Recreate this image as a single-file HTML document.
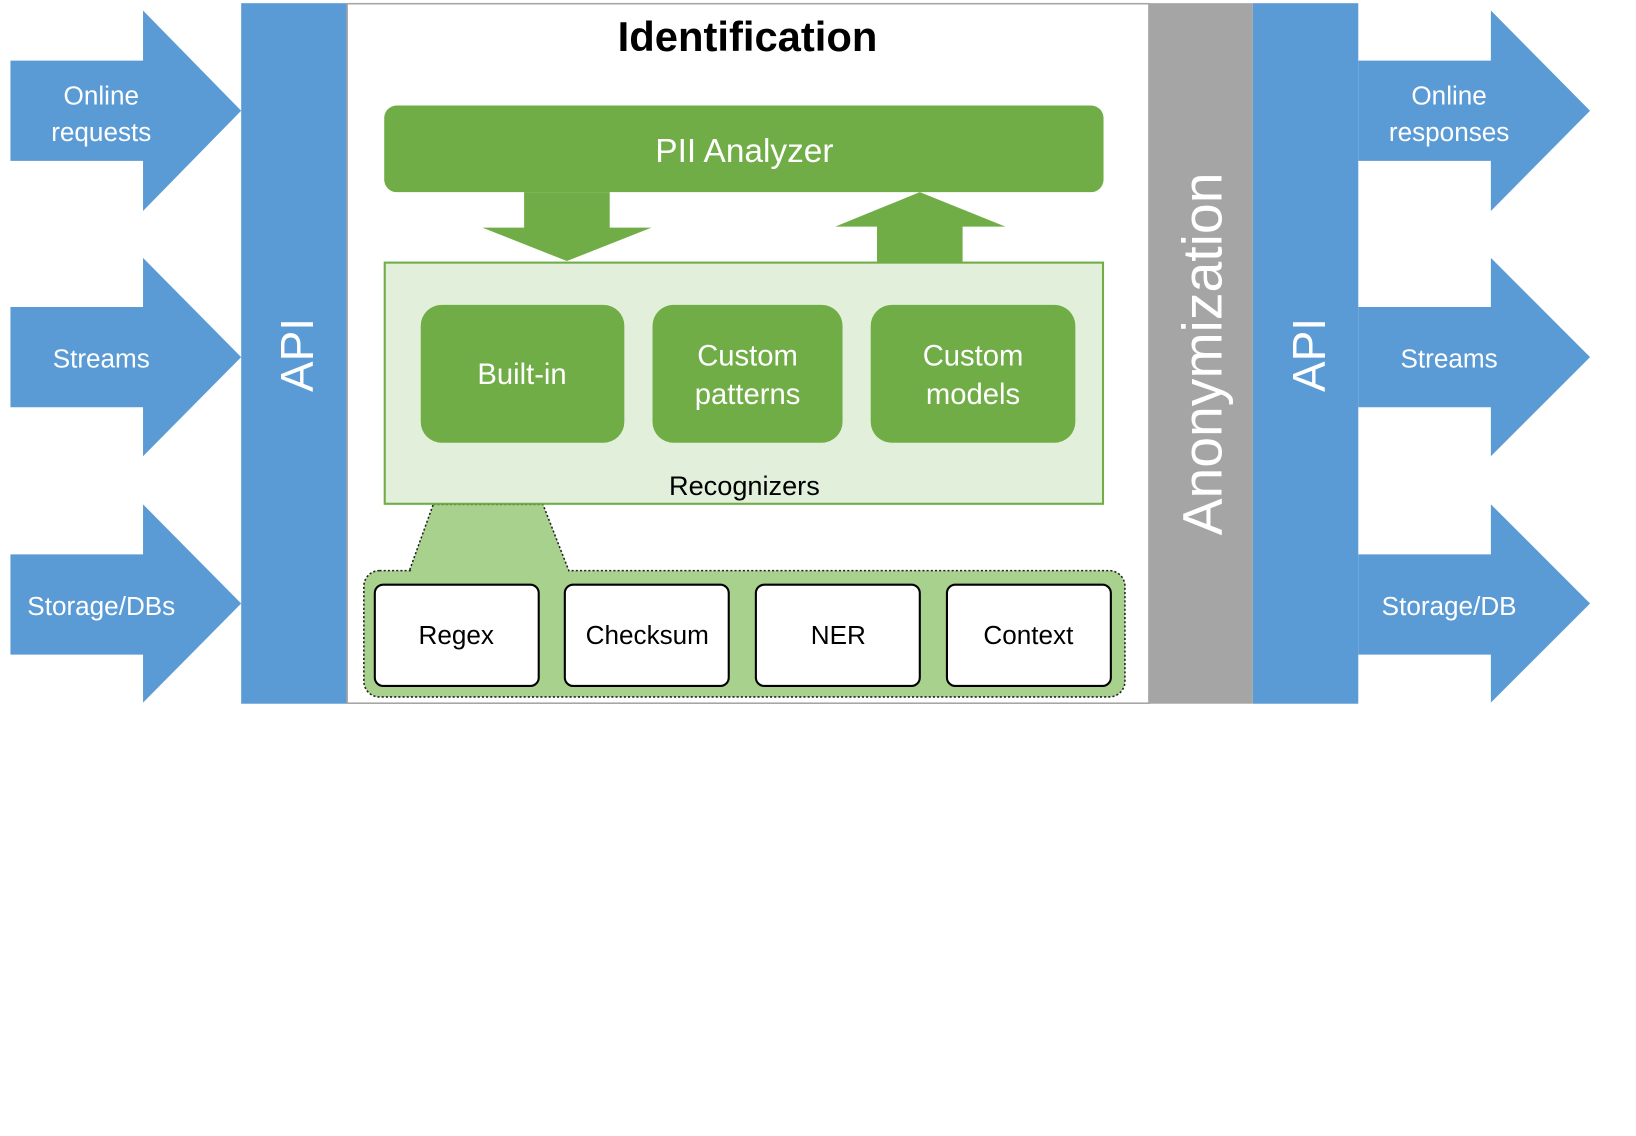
<!DOCTYPE html>
<html><head><meta charset="utf-8"><style>html,body{margin:0;padding:0;background:#fff;width:1636px;height:1136px;overflow:hidden}svg{display:block}text{font-family:"Liberation Sans",sans-serif}</style></head><body>
<svg width="1636" height="1136" viewBox="0 0 1567 1088" xmlns="http://www.w3.org/2000/svg">
<g fill="#5b9bd5">
<polygon points="10,58 137,58 137,10 231,106 137,202 137,154 10,154"/>
<polygon points="10,294 137,294 137,247 231,342 137,437 137,390 10,390"/>
<polygon points="10,531 137,531 137,483 231,578 137,673 137,627 10,627"/>
<polygon points="1301,58 1428,58 1428,10 1523,106 1428,202 1428,154 1301,154"/>
<polygon points="1301,294 1428,294 1428,247 1523,342 1428,437 1428,390 1301,390"/>
<polygon points="1301,531 1428,531 1428,483 1523,578 1428,673 1428,627 1301,627"/>
<rect x="231" y="3" width="101" height="671"/>
<rect x="1200" y="3" width="101" height="671"/>
</g>
<rect x="332.5" y="3.5" width="768" height="670" fill="#fff" stroke="#a5a5a5" stroke-width="1.5"/>
<rect x="1100" y="3" width="100" height="671" fill="#a5a5a5"/>
<g fill="#fff" font-size="25" text-anchor="middle">
<text x="97" y="100">Online</text><text x="97" y="135">requests</text>
<text x="97" y="352">Streams</text>
<text x="97" y="589">Storage/DBs</text>
<text x="1388" y="100">Online</text><text x="1388" y="135">responses</text>
<text x="1388" y="352">Streams</text>
<text x="1388" y="589">Storage/DB</text>
<text transform="translate(300,340) rotate(-90)" font-size="44">API</text>
<text transform="translate(1269,340) rotate(-90)" font-size="44">API</text>
<text transform="translate(1170,339) rotate(-90)" font-size="53">Anonymization</text>
</g>
<text x="716" y="49" font-size="40" font-weight="bold" text-anchor="middle">Identification</text>
<rect x="368" y="101" width="689" height="83" rx="12" fill="#70ad47"/>
<text x="713" y="155" font-size="32" fill="#fff" text-anchor="middle">PII Analyzer</text>
<polygon points="502,184 584,184 584,218 624,218 543,250 462,218 502,218" fill="#70ad47"/>
<polygon points="881,184 963,217 922,217 922,251 840,251 840,217 800,217" fill="#70ad47"/>
<polygon points="415,483 520,483 545,547 392,547" fill="#a9d18e" stroke="#222" stroke-width="1.5" stroke-dasharray="2,2"/>
<rect x="348.5" y="546.5" width="729" height="121" rx="15" fill="#a9d18e" stroke="#222" stroke-width="1.5" stroke-dasharray="2,2"/>
<rect x="394" y="544" width="150" height="6" fill="#a9d18e"/>
<rect x="368.5" y="251.5" width="688" height="231" fill="#e2efda" stroke="#70ad47" stroke-width="2"/>
<g fill="#70ad47">
<rect x="403" y="292" width="195" height="132" rx="20"/>
<rect x="625" y="292" width="182" height="132" rx="20"/>
<rect x="834" y="292" width="196" height="132" rx="20"/>
</g>
<g fill="#fff" font-size="28" text-anchor="middle">
<text x="500" y="368">Built-in</text>
<text x="716" y="350">Custom</text><text x="716" y="387">patterns</text>
<text x="932" y="350">Custom</text><text x="932" y="387">models</text>
</g>
<text x="713" y="474" font-size="26" text-anchor="middle">Recognizers</text>
<g fill="#fff" stroke="#000" stroke-width="2">
<rect x="359" y="560" width="157" height="97" rx="8"/>
<rect x="541" y="560" width="157" height="97" rx="8"/>
<rect x="724" y="560" width="157" height="97" rx="8"/>
<rect x="907" y="560" width="157" height="97" rx="8"/>
</g>
<g font-size="25" text-anchor="middle">
<text x="437" y="617">Regex</text>
<text x="620" y="617">Checksum</text>
<text x="803" y="617">NER</text>
<text x="985" y="617">Context</text>
</g>
</svg>
</body></html>
